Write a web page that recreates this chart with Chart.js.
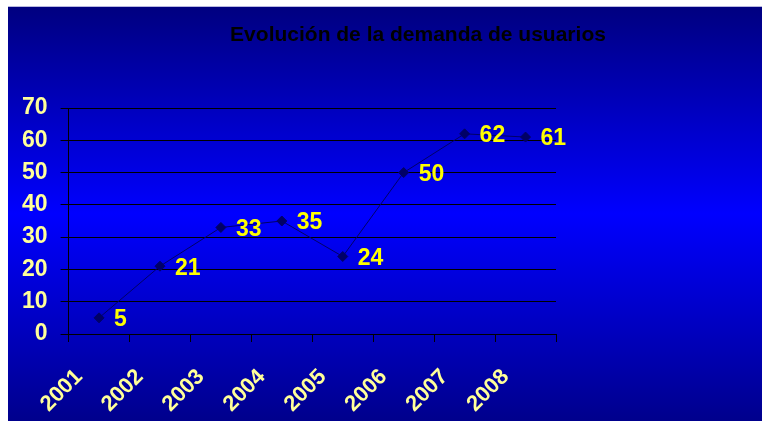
<!DOCTYPE html>
<html>
<head>
<meta charset="utf-8">
<script src="https://cdn.jsdelivr.net/npm/chart.js@4/dist/chart.umd.min.js"></script>
<style>
  html, body { margin: 0; padding: 0; background: #fff; }
  #wrap {
    position: absolute; left: 8px; top: 6px; width: 754px; height: 414px;
    border-top: 1px solid #b8b8e0;
    background: linear-gradient(to bottom, #000080 0%, #0000ff 50%, #00008c 100%);
  }
</style>
</head>
<body>
<div id="wrap"><canvas id="chart"></canvas></div>
<script>
const years = ['2001', '2002', '2003', '2004', '2005', '2006', '2007', '2008'];
const demanda = [5, 21, 33, 35, 24, 50, 62, 61];
const yTicks = [0, 10, 20, 30, 40, 50, 60, 70];
const titulo = 'Evolución de la demanda de usuarios';

const FONT = '"Liberation Sans", Arial, sans-serif';

// titulo desplazado a la derecha como en el original
const titlePlugin = {
  id: 'tituloExcel',
  afterDraw(chart) {
    const ctx = chart.ctx;
    ctx.save();
    ctx.font = 'bold 21px ' + FONT;
    ctx.fillStyle = '#000';
    ctx.textAlign = 'center';
    ctx.textBaseline = 'middle';
    ctx.fillText(titulo, 410, 28);
    ctx.restore();
  }
};

// etiquetas de valor a la derecha de cada punto
const valueLabels = {
  id: 'valueLabels',
  afterDatasetsDraw(chart) {
    const ctx = chart.ctx;
    const meta = chart.getDatasetMeta(0);
    ctx.save();
    ctx.font = 'bold 23px ' + FONT;
    ctx.fillStyle = '#ffff00';
    ctx.textAlign = 'left';
    ctx.textBaseline = 'middle';
    meta.data.forEach((pt, i) => {
      ctx.fillText(String(demanda[i]), pt.x + 15, pt.y + 2);
    });
    ctx.restore();
  }
};

new Chart(document.getElementById('chart'), {
  type: 'line',
  data: {
    labels: years,
    datasets: [{
      data: demanda,
      borderColor: '#000066',
      borderWidth: 1,
      backgroundColor: '#000066',
      pointStyle: 'rectRot',
      pointRadius: 5,
      pointBackgroundColor: '#000066',
      pointBorderColor: '#000066',
      tension: 0,
      fill: false
    }]
  },
  options: {
    responsive: true,
    maintainAspectRatio: false,
    animation: false,
    layout: { padding: { top: 101, right: 206, bottom: 0, left: 1 } },
    plugins: { legend: { display: false }, title: { display: false }, tooltip: { enabled: false } },
    scales: {
      x: {
        offset: true,
        afterFit(axis) { axis.height = 87; },
        grid: { offset: true, drawOnChartArea: false, drawTicks: true, tickLength: 8, color: '#000', lineWidth: 1 },
        border: { display: true, color: '#000', width: 1 },
        ticks: {
          color: '#ffff99', font: { family: FONT, size: 22, weight: 'bold' },
          minRotation: 45, maxRotation: 45, padding: 22, labelOffset: -20, autoSkip: false
        }
      },
      y: {
        min: 0, max: 70,
        afterBuildTicks(axis) { axis.ticks = yTicks.map(v => ({ value: v })); },
        grid: { color: '#000', lineWidth: 1, tickLength: 8, drawTicks: true },
        border: { display: true, color: '#000', width: 1 },
        ticks: { color: '#ffff99', font: { family: FONT, size: 23, weight: 'bold' }, padding: 13, autoSkip: false }
      }
    }
  },
  plugins: [titlePlugin, valueLabels]
});
</script>
</body>
</html>
